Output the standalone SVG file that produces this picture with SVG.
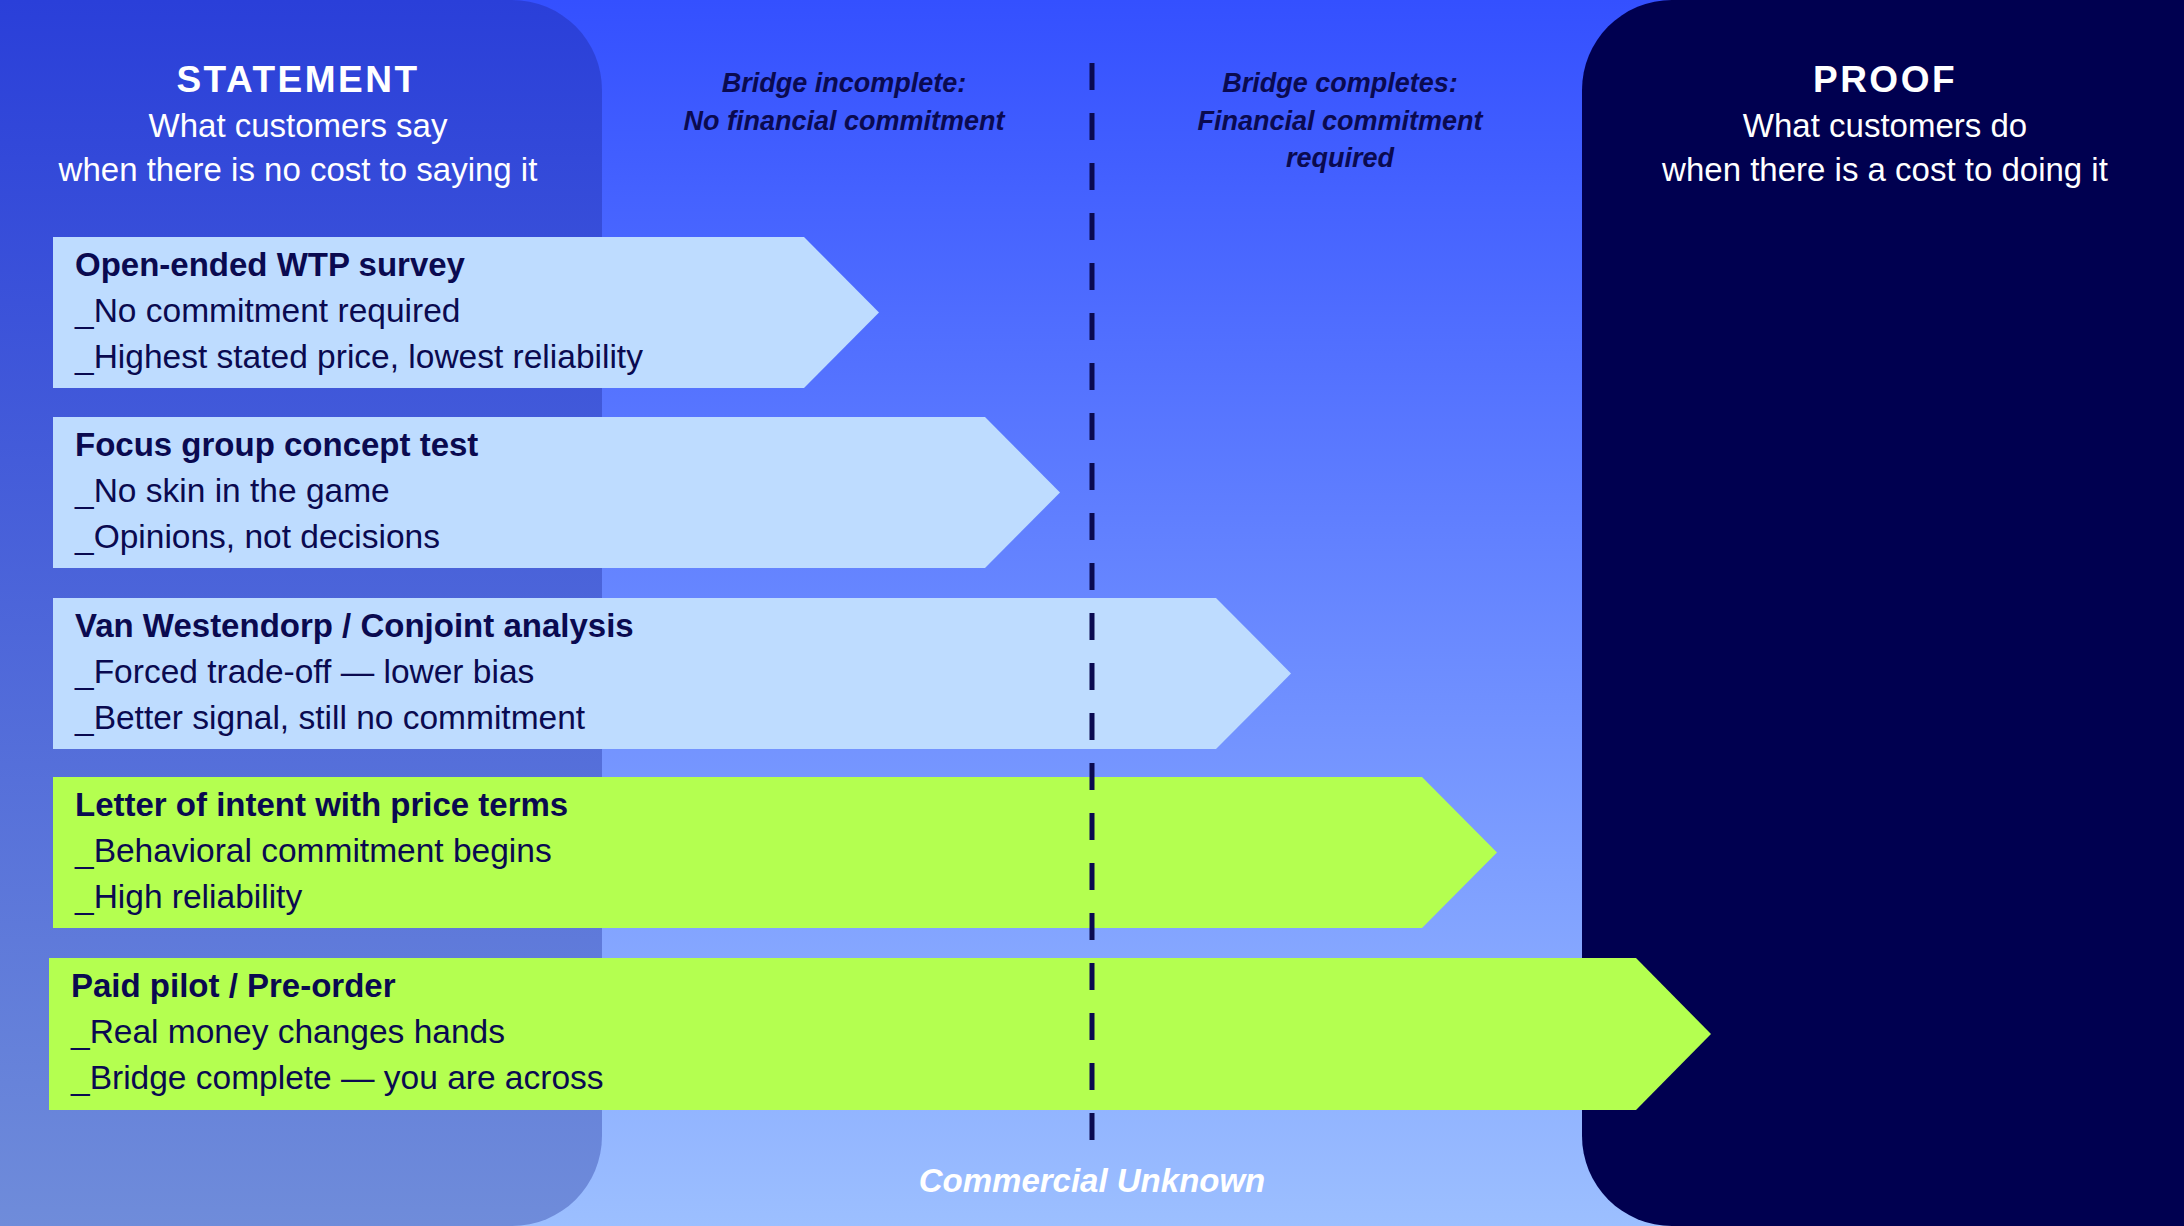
<svg xmlns="http://www.w3.org/2000/svg" width="2184" height="1226" viewBox="0 0 2184 1226">
  <defs>
    <linearGradient id="bg" x1="0" y1="0" x2="0" y2="1">
      <stop offset="0" stop-color="#3450FF"/>
      <stop offset="1" stop-color="#9CBFFF"/>
    </linearGradient>
    <linearGradient id="leftPanel" x1="0" y1="0" x2="0" y2="1">
      <stop offset="0" stop-color="#2A3FD9"/>
      <stop offset="1" stop-color="#6F8CDA"/>
    </linearGradient>
    <style>
      .head { font-family: "Liberation Sans", Arial, sans-serif; font-weight: 700; font-size: 37px; fill: #FFFFFF; text-anchor: middle; letter-spacing: 2.5px; }
      .sub { font-family: "Liberation Sans", Arial, sans-serif; font-size: 33px; fill: #FFFFFF; text-anchor: middle; }
      .bridge { font-family: "Liberation Sans", Arial, sans-serif; font-style: italic; font-weight: 700; font-size: 27px; fill: #0A0A50; text-anchor: middle; }
      .unknown { font-family: "Liberation Sans", Arial, sans-serif; font-style: italic; font-weight: 700; font-size: 33px; fill: #FFFFFF; text-anchor: middle; }
      .title { font-family: "Liberation Sans", Arial, sans-serif; font-weight: 700; font-size: 33px; fill: #0A0A50; }
      .line { font-family: "Liberation Sans", Arial, sans-serif; font-size: 33.5px; fill: #0A0A50; }
      .light { fill: #BEDCFF; }
      .green { fill: #B4FF50; }
      .divider { stroke: #0A0A50; stroke-width: 5; stroke-dasharray: 27 23; fill: none; }
    </style>
  </defs>

  <rect x="0" y="0" width="2184" height="1226" fill="url(#bg)"/>

  <g id="statement-panel">
    <path d="M0 0 H512 A90 90 0 0 1 602 90 V1136 A90 90 0 0 1 512 1226 H0 Z" fill="url(#leftPanel)"/>
    <text class="head" x="298" y="92">STATEMENT</text>
    <text class="sub" x="298" y="137">What customers say</text>
    <text class="sub" x="298" y="181">when there is no cost to saying it</text>
  </g>

  <g id="proof-panel">
    <path d="M2184 0 H1672 A90 90 0 0 0 1582 90 V1136 A90 90 0 0 0 1672 1226 H2184 Z" fill="#000050"/>
    <text class="head" x="1885" y="92">PROOF</text>
    <text class="sub" x="1885" y="137">What customers do</text>
    <text class="sub" x="1885" y="181">when there is a cost to doing it</text>
  </g>

  <g id="label-incomplete">
    <text class="bridge" x="844" y="92">Bridge incomplete:</text>
    <text class="bridge" x="844" y="130">No financial commitment</text>
  </g>

  <g id="label-completes">
    <text class="bridge" x="1340" y="92">Bridge completes:</text>
    <text class="bridge" x="1340" y="130">Financial commitment</text>
    <text class="bridge" x="1340" y="167">required</text>
  </g>

  <g id="node-wtp-survey">
    <polygon class="light" points="53,237 804,237 879,312.5 804,388 53,388"/>
    <text class="title" x="75" y="276">Open-ended WTP survey</text>
    <text class="line" x="75" y="322">_No commitment required</text>
    <text class="line" x="75" y="368">_Highest stated price, lowest reliability</text>
  </g>

  <g id="node-focus-group">
    <polygon class="light" points="53,417 985,417 1060,492.5 985,568 53,568"/>
    <text class="title" x="75" y="456">Focus group concept test</text>
    <text class="line" x="75" y="502">_No skin in the game</text>
    <text class="line" x="75" y="548">_Opinions, not decisions</text>
  </g>

  <g id="node-van-westendorp">
    <polygon class="light" points="53,598 1216,598 1291,673.5 1216,749 53,749"/>
    <text class="title" x="75" y="637">Van Westendorp / Conjoint analysis</text>
    <text class="line" x="75" y="683">_Forced trade-off — lower bias</text>
    <text class="line" x="75" y="729">_Better signal, still no commitment</text>
  </g>

  <g id="node-letter-of-intent">
    <polygon class="green" points="53,777 1422,777 1497,852.5 1422,928 53,928"/>
    <text class="title" x="75" y="816">Letter of intent with price terms</text>
    <text class="line" x="75" y="862">_Behavioral commitment begins</text>
    <text class="line" x="75" y="908">_High reliability</text>
  </g>

  <g id="node-paid-pilot">
    <polygon class="green" points="49,958 1636,958 1711,1034 1636,1110 49,1110"/>
    <text class="title" x="71" y="997">Paid pilot / Pre-order</text>
    <text class="line" x="71" y="1043">_Real money changes hands</text>
    <text class="line" x="71" y="1089">_Bridge complete — you are across</text>
  </g>

  <g id="connectors">
    <line class="divider" x1="1092" y1="63" x2="1092" y2="1140"/>
  </g>

  <g id="label-commercial-unknown">
    <text class="unknown" x="1092" y="1192">Commercial Unknown</text>
  </g>
</svg>
